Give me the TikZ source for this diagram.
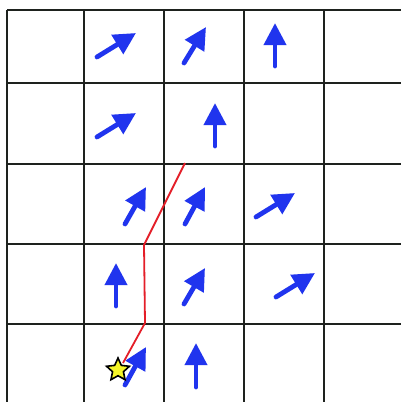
\documentclass[tikz,border=0pt]{standalone}
\usepackage{tikz}
\usetikzlibrary{arrows.meta, shapes.geometric}
\definecolor{gridline}{RGB}{30,34,30}
\definecolor{vecblue}{RGB}{32,52,238}
\definecolor{pathred}{RGB}{228,30,40}
\definecolor{staryellow}{RGB}{245,245,40}

\begin{document}
\begin{tikzpicture}[
    x=0.025cm, y=-0.025cm,
    grid/.style={draw=gridline, line width=0.072cm},
    vec/.style={draw=vecblue, line width=0.12cm, line cap=round, -{Triangle[length=0.55cm, width=0.54cm]}},
    route/.style={draw=pathred, line width=0.045cm},
    goal/.style={star, star points=5, star point ratio=2.1, minimum size=0.6cm, inner sep=0pt, fill=staryellow, draw=black, line width=0.04cm}
]
    \useasboundingbox (0,0) rectangle (401,402);
    \fill[white] (0,0) rectangle (401,402);

    % Grid
    \foreach \gx in {7,84,164,244,324}
        \draw[grid] (\gx,10) -- (\gx,402);
    \foreach \gy in {10,83,164,244,324}
        \draw[grid] (7,\gy) -- (401,\gy);

    % Row 1
    \draw[vec] (97,57) -- (136,33);
    \draw[vec] (184,63) -- (206,27);
    \draw[vec] (275,66) -- (275,23);

    % Row 2
    \draw[vec] (97,137) -- (136,113);
    \draw[vec] (215,146) -- (215,103);

    % Row 3
    \draw[vec] (125,224) -- (146,187);
    \draw[vec] (185,224) -- (205,187);
    \draw[vec] (256,217) -- (295,193);

    % Row 4
    \draw[vec] (116,306) -- (116,263);
    \draw[vec] (184,304) -- (205,268);
    \draw[vec] (276,297) -- (315,273);

    % Row 5
    \draw[vec] (125,385) -- (146,347);
    \draw[vec] (196,387) -- (196,343);

    % Path from start
    \coordinate (start) at (123,363);
    \coordinate (bend1) at (145,323);
    \coordinate (bend2) at (144,245);
    \coordinate (stop) at (185,163);
    \draw[route] (start) -- (bend1) -- (bend2) -- (stop);

    % Start marker
    \node[goal] (startstar) at (118,370) {};

\end{tikzpicture}
\end{document}
